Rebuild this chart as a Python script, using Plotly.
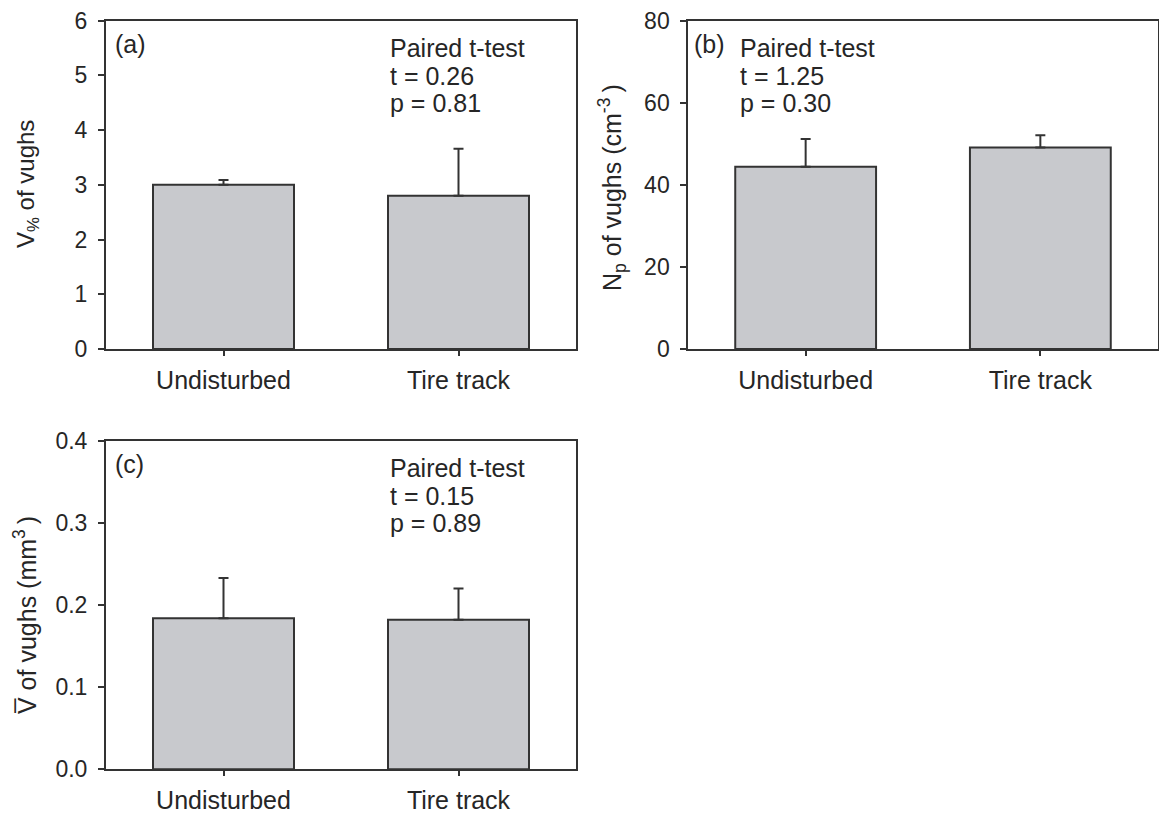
import plotly.graph_objects as go

categories = ["Undisturbed", "Tire track"]

# (a) V% of vughs
a_mean = [3.00, 2.80]
a_err = [0.09, 0.86]
# (b) Np of vughs (cm^-3)
b_mean = [44.4, 49.1]
b_err = [6.8, 3.0]
# (c) mean volume of vughs (mm^3)
c_mean = [0.184, 0.182]
c_err = [0.049, 0.038]

stats = {
    "a": ["Paired t-test", "t = 0.26", "p = 0.81"],
    "b": ["Paired t-test", "t = 1.25", "p = 0.30"],
    "c": ["Paired t-test", "t = 0.15", "p = 0.89"],
}

W, H = 1159, 813
FONT = "Liberation Sans, Arial, sans-serif"
FS_TICK = 23
FS = 25
TXT = "#262626"
LINE = "#333333"
BAR = "#c8c9cd"

def px_x(p):
    return p / W

def px_y(p):
    return 1 - p / H

fig = go.Figure()

panels = [
    ("x", "y", a_mean, a_err),
    ("x2", "y2", b_mean, b_err),
    ("x3", "y3", c_mean, c_err),
]
for xa, ya, m, e in panels:
    fig.add_trace(go.Bar(
        x=categories, y=m, xaxis=xa, yaxis=ya, width=0.6,
        marker=dict(color=BAR, line=dict(color=LINE, width=2)),
        error_y=dict(type="data", array=e, arrayminus=[0, 0], symmetric=False,
                     color=LINE, thickness=2, width=5),
        showlegend=False, hoverinfo="skip",
    ))

common_x = dict(showline=True, linecolor=LINE, linewidth=2, mirror=True,
                ticks="outside", ticklen=5, tickwidth=1.5, tickcolor=LINE,
                range=[-0.5, 1.5], showgrid=False, zeroline=False,
                tickfont=dict(family=FONT, size=FS, color=TXT),
                ticklabelstandoff=3, fixedrange=True, automargin=False)
common_y = dict(showline=True, linecolor=LINE, linewidth=2, mirror=True,
                ticks="outside", ticklen=6, tickwidth=1.5, tickcolor=LINE,
                showgrid=False, zeroline=False,
                tickfont=dict(family=FONT, size=FS_TICK, color=TXT),
                ticklabelstandoff=6, fixedrange=True, automargin=False)

xa_dom = [px_x(106), px_x(576)]
xb_dom = [px_x(688.3), px_x(1157.7)]
ya_dom = [px_y(349), px_y(20.7)]
yc_dom = [px_y(769.3), px_y(440.7)]

fig.update_layout(
    width=W, height=H, autosize=False,
    margin=dict(l=0, r=0, t=0, b=0, pad=0, autoexpand=False),
    paper_bgcolor="white", plot_bgcolor="white",
    font=dict(family=FONT, size=FS, color=TXT),
    xaxis=dict(domain=xa_dom, anchor="y", **common_x),
    yaxis=dict(domain=ya_dom, anchor="x", range=[0, 6], dtick=1, **common_y),
    xaxis2=dict(domain=xb_dom, anchor="y2", **common_x),
    yaxis2=dict(domain=ya_dom, anchor="x2", range=[0, 80], dtick=20, **common_y),
    xaxis3=dict(domain=xa_dom, anchor="y3", **common_x),
    yaxis3=dict(domain=yc_dom, anchor="x3", range=[0, 0.4], dtick=0.1,
                tickformat=".1f", **common_y),
)

ann = []
def add_text(xref, yref, x, y, text, xanchor="left"):
    ann.append(dict(xref=xref, yref=yref, x=x, y=y, text=text, showarrow=False,
                    xanchor=xanchor, yanchor="middle",
                    font=dict(family=FONT, size=FS, color=TXT)))

line_y = [0.917, 0.833, 0.750]
# panel labels
add_text("x domain", "y domain", 0.015, 0.929, "(a)")
add_text("x2 domain", "y2 domain", 0.0072, 0.929, "(b)")
add_text("x3 domain", "y3 domain", 0.015, 0.929, "(c)")
for (xr, yr, x0, key) in [("x domain", "y domain", 0.60, "a"),
                          ("x2 domain", "y2 domain", 0.1065, "b"),
                          ("x3 domain", "y3 domain", 0.60, "c")]:
    for ly, t in zip(line_y, stats[key]):
        add_text(xr, yr, x0, ly, t)

# y-axis titles
def add_ytitle(xpx, ycpx, text, size):
    ann.append(dict(xref="paper", yref="paper", x=px_x(xpx), y=px_y(ycpx),
                    text=text, showarrow=False, textangle=-90,
                    xanchor="center", yanchor="middle",
                    font=dict(family=FONT, size=size, color=TXT)))

add_ytitle(27, 184, "V<sub>%</sub> of vughs", 24)
add_ytitle(612, 188, "N<sub>p</sub> of vughs (cm<sup>-3</sup>\u2009)", 25)
add_ytitle(25, 615, "V\u0305 of vughs (mm<sup>3</sup>\u2009)", 25)

fig.update_layout(annotations=ann)

fig.write_html("out.html", config={"displayModeBar": False},
               post_script="document.body.style.margin='0';document.body.style.overflow='hidden';")
